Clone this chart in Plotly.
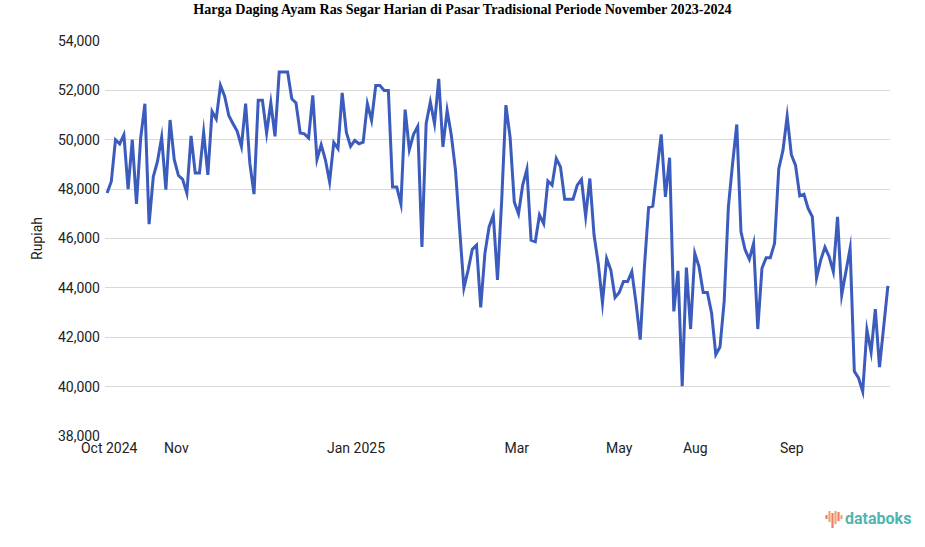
import plotly.graph_objects as go

price = [47840,48310,50000,49830,50200,48000,50000,47400,50070,51460,46580,48500,49120,50100,47980,50800,49190,48550,48400,47840,
50160,48650,48650,50300,48580,51150,50840,52200,51760,50970,50650,50340,49730,51460,49050,47800,51600,51600,50270,51500,
50140,52740,52740,52740,51660,51490,50270,50240,50070,51800,49200,49800,49190,48300,49890,49640,51900,50300,49730,49970,
49840,49900,51460,50790,52200,52200,52000,52000,48090,48090,47400,51220,49600,50220,50540,45660,50650,51530,50650,52470,
49710,51190,50180,48760,46340,44000,44720,45560,45730,43210,45400,46470,46950,44320,47550,51400,50110,47480,47000,48160,
48800,45930,45870,46950,46600,48330,48160,49240,48900,47590,47590,47590,48160,48390,46900,48430,46140,44990,43400,45190,
44720,43610,43810,44257,44257,44660,43383,41903,44862,47256,47310,48763,50215,47687,49274,43046,44687,40020,44822,42333,
45400,44862,43813,43813,42979,41298,41607,43450,47283,49032,50619,46274,45535,45158,45800,42333,44795,45225,45225,45804,
48830,49570,50950,49395,48964,47727,47794,47216,46880,44400,45131,45650,45266,44660,46880,43719,44660,45600,40625,40356,
39800,42300,41400,43140,40787,42441,44082]
positions = list(range(len(price)))
tick_positions = [0.5,16.5,59.3,97.6,122,140.1,163.1]
tick_labels = ["Oct 2024","Nov","Jan 2025","Mar","May","Aug","Sep"]
y_ticks = [38000,40000,42000,44000,46000,48000,50000,52000,54000]
W,H = 925,547
L,R,T,B = 105,890,41.3,436

fig = go.Figure(go.Scatter(x=positions,y=price,mode="lines",line=dict(color="#3b5cbd",width=3),hoverinfo="skip"))

shapes=[]
logo = [(826.5,515,519,"#ee7b6c"),(829.5,511,522,"#f0a468"),(832.5,513,528,"#ee7b6c"),(835.5,511,524,"#f0a468"),(838.5,512,521,"#ee7b6c"),(841.5,515,519,"#f0a468")]
for x,y0,y1,c in logo:
    xp=(x-L)/(R-L)
    shapes.append(dict(type="line",xref="paper",yref="paper",x0=xp,x1=xp,
        y0=(B-y0)/(B-T),y1=(B-y1)/(B-T),line=dict(color=c,width=2.2)))

fig.update_layout(width=W,height=H,margin=dict(l=L,r=W-R,t=T,b=H-B,pad=0),
    paper_bgcolor="white",plot_bgcolor="white",showlegend=False,
    font=dict(family="Roboto",size=14,color="#222222"),
    title=dict(text="<b>Harga Daging Ayam Ras Segar Harian di Pasar Tradisional Periode November 2023-2024</b>",
        font=dict(family="Liberation Serif",size=14.1,color="#000000"),x=462.5/W,xanchor="center",y=1-9/H,yanchor="middle"),
    xaxis=dict(range=[-0.5,186.5],tickmode="array",tickvals=tick_positions,ticktext=tick_labels,ticklabelstandoff=2,
        showgrid=False,zeroline=False,showline=False,ticks="",tickfont=dict(size=14,color="#222222")),
    yaxis=dict(range=[38000,54000],tickmode="array",tickvals=y_ticks,tickformat=",d",ticklabelstandoff=4,
        gridcolor="#d9d9d9",gridwidth=1,zeroline=False,showline=False,ticks="",ticklen=0,
        tickfont=dict(size=14,color="#222222"),
        title=dict(text="Rupiah",font=dict(size=14,color="#222222"),standoff=11)),
    shapes=shapes,
    annotations=[dict(text="<b>databoks</b>",xref="paper",yref="paper",x=(843-L)/(R-L),y=(B-518.5)/(B-T),
        xanchor="left",yanchor="middle",showarrow=False,font=dict(family="Roboto",size=16,color="#4fb5b0"))])
post = """
document.body.style.margin='0';
document.documentElement.style.overflow='hidden';
document.querySelectorAll('.js-line').forEach(function(e){e.style.strokeMiterlimit='10';});
"""
fig.write_html("out.html", post_script=post, config=dict(displayModeBar=False))
